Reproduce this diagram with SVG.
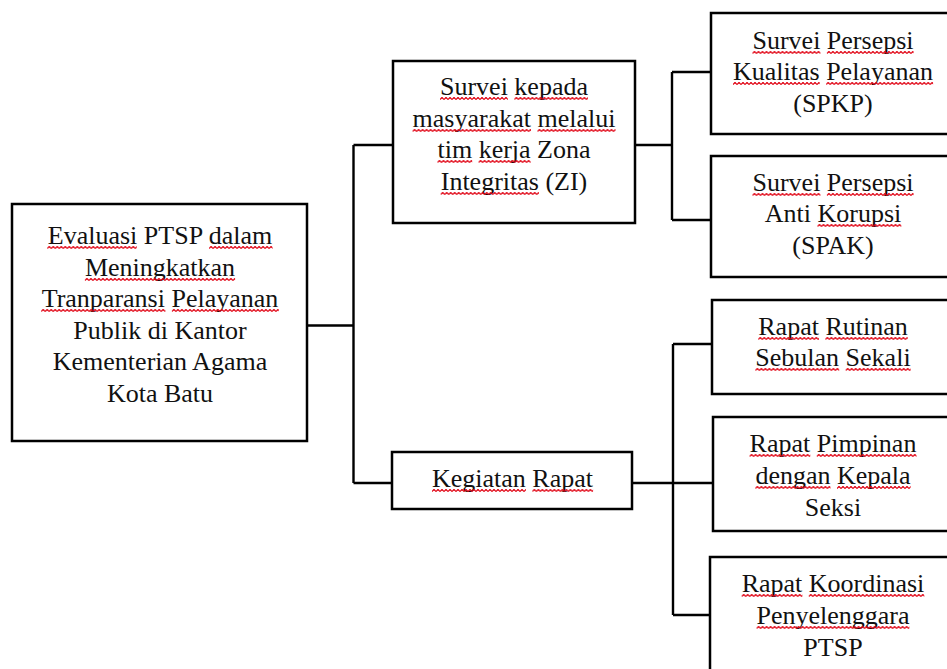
<svg xmlns="http://www.w3.org/2000/svg" width="947" height="669" viewBox="0 0 947 669">
<defs>
<pattern id="sq" patternUnits="userSpaceOnUse" width="4" height="3">
<path d="M0 2.6 L2 0.4 L4 2.6" fill="none" stroke="#e00010" stroke-width="1.2"/>
</pattern>
<style>
.box{fill:#fff;stroke:#000;stroke-width:2.5}
.t{font-family:"Liberation Serif","Times New Roman",serif;font-size:26px;fill:#111;text-anchor:middle}
.sq{fill:url(#sq)}
.c{fill:none;stroke:#000;stroke-width:2.4}
</style>
</defs>
<rect width="947" height="669" fill="#fff"/>
<g id="connectors" class="c">
<path d="M307 325.5 H353.5 M353.5 145 V483 M353.5 145 H393 M353.5 483 H392"/>
<path d="M635 145 H672 M672 72 V220 M672 72 H711 M672 220 H711"/>
<path d="M632 483 H713 M673 344 V615 M673 344 H712 M673 615 H710"/>
</g>
<g id="main">
<rect class="box" x="12" y="204" width="295" height="237"/>
<text class="t" x="160" y="244">Evaluasi PTSP dalam</text>
<text class="t" x="160" y="275.6">Meningkatkan</text>
<text class="t" x="160" y="307.2">Tranparansi Pelayanan</text>
<text class="t" x="160" y="338.8">Publik di Kantor</text>
<text class="t" x="160" y="370.4">Kementerian Agama</text>
<text class="t" x="160" y="402">Kota Batu</text>
<rect class="sq" transform="translate(47.3,246)" width="89.5" height="3"/>
<rect class="sq" transform="translate(209.1,246)" width="63.5" height="3"/>
<rect class="sq" transform="translate(84.9,278)" width="150.2" height="3"/>
<rect class="sq" transform="translate(41.2,309)" width="124.2" height="3"/>
<rect class="sq" transform="translate(171.9,309)" width="106.9" height="3"/>
</g>
<g id="survei-zi">
<rect class="box" x="393" y="61" width="242" height="162"/>
<text class="t" x="514" y="95">Survei kepada</text>
<text class="t" x="514" y="126.6">masyarakat melalui</text>
<text class="t" x="514" y="158.2">tim kerja Zona</text>
<text class="t" x="514" y="189.8">Integritas (ZI)</text>
<rect class="sq" transform="translate(440,97)" width="67.9" height="3"/>
<rect class="sq" transform="translate(514.4,97)" width="73.6" height="3"/>
<rect class="sq" transform="translate(412.6,129)" width="118.4" height="3"/>
<rect class="sq" transform="translate(537.5,129)" width="78" height="3"/>
<rect class="sq" transform="translate(437.5,160)" width="34.7" height="3"/>
<rect class="sq" transform="translate(478.6,160)" width="52" height="3"/>
<rect class="sq" transform="translate(440.7,192)" width="98.2" height="3"/>
</g>
<g id="spkp">
<rect class="box" x="711" y="13" width="245" height="121"/>
<text class="t" x="833" y="48.5">Survei Persepsi</text>
<text class="t" x="833" y="80">Kualitas Pelayanan</text>
<text class="t" x="833" y="111.5">(SPKP)</text>
<rect class="sq" transform="translate(752.5,51)" width="67.9" height="3"/>
<rect class="sq" transform="translate(826.9,51)" width="86.7" height="3"/>
<rect class="sq" transform="translate(733,82)" width="86.7" height="3"/>
<rect class="sq" transform="translate(826.2,82)" width="106.9" height="3"/>
</g>
<g id="spak">
<rect class="box" x="711" y="156" width="245" height="121"/>
<text class="t" x="833" y="190.5">Survei Persepsi</text>
<text class="t" x="833" y="222">Anti Korupsi</text>
<text class="t" x="833" y="253.5">(SPAK)</text>
<rect class="sq" transform="translate(752.5,193)" width="67.9" height="3"/>
<rect class="sq" transform="translate(826.9,193)" width="86.7" height="3"/>
<rect class="sq" transform="translate(817.5,224)" width="83.8" height="3"/>
</g>
<g id="kegiatan-rapat">
<rect class="box" x="392" y="452" width="240" height="57"/>
<text class="t" x="512.5" y="487">Kegiatan Rapat</text>
<rect class="sq" transform="translate(432,489)" width="93.9" height="3"/>
<rect class="sq" transform="translate(532.4,489)" width="60.7" height="3"/>
</g>
<g id="rapat-rutinan">
<rect class="box" x="712" y="300" width="245" height="94"/>
<text class="t" x="833" y="334.5">Rapat Rutinan</text>
<text class="t" x="833" y="366">Sebulan Sekali</text>
<rect class="sq" transform="translate(758.3,337)" width="60.7" height="3"/>
<rect class="sq" transform="translate(825.4,337)" width="82.3" height="3"/>
<rect class="sq" transform="translate(755.4,368)" width="83.8" height="3"/>
<rect class="sq" transform="translate(845.7,368)" width="65" height="3"/>
</g>
<g id="rapat-pimpinan">
<rect class="box" x="713" y="417" width="245" height="114"/>
<text class="t" x="833" y="452">Rapat Pimpinan</text>
<text class="t" x="833" y="484">dengan Kepala</text>
<text class="t" x="833" y="516">Seksi</text>
<rect class="sq" transform="translate(749.6,454)" width="60.7" height="3"/>
<rect class="sq" transform="translate(816.8,454)" width="99.7" height="3"/>
<rect class="sq" transform="translate(755.4,486)" width="75.1" height="3"/>
<rect class="sq" transform="translate(837,486)" width="73.6" height="3"/>
</g>
<g id="rapat-koordinasi">
<rect class="box" x="710" y="557" width="245" height="130"/>
<text class="t" x="833" y="592">Rapat Koordinasi</text>
<text class="t" x="833" y="624">Penyelenggara</text>
<text class="t" x="833" y="655.5">PTSP</text>
<rect class="sq" transform="translate(741.7,594)" width="60.7" height="3"/>
<rect class="sq" transform="translate(808.8,594)" width="115.5" height="3"/>
<rect class="sq" transform="translate(756.6,626)" width="152.8" height="3"/>
</g>
</svg>
